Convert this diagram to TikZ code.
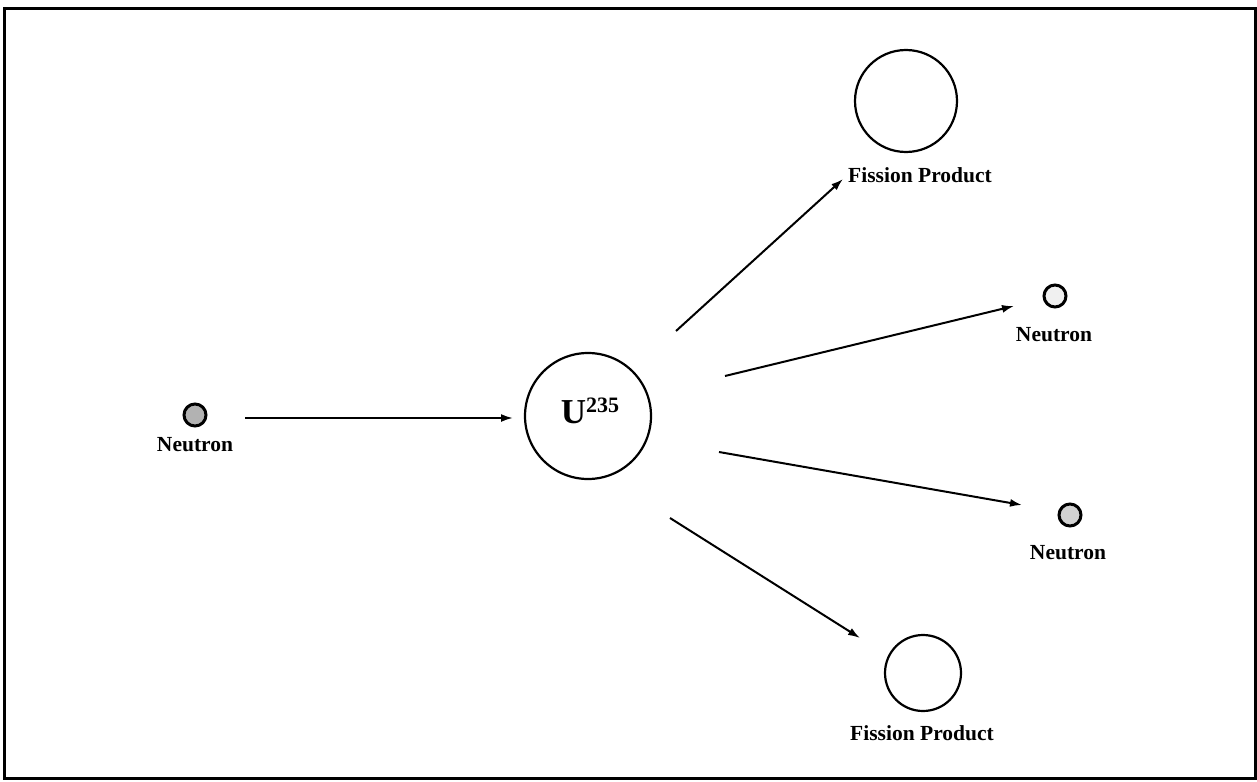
\documentclass[tikz,border=0pt]{standalone}
\usepackage{fontspec}
\setmainfont{Liberation Serif}
\usetikzlibrary{arrows.meta}
\begin{document}
\begin{tikzpicture}[x=1pt,y=-1pt,
  lbl/.style={font=\fontsize{21.5}{24}\selectfont\bfseries, inner sep=0pt},
  nucleus/.style={circle, draw, line width=2.2pt, inner sep=0pt, minimum size=#1},
  neutronball/.style={circle, draw, line width=3pt, inner sep=0pt, minimum size=22pt, fill=#1},
  arr/.style={line width=2pt, -{Latex[length=12pt,width=8pt]}}]
\useasboundingbox (0,0) rectangle (1257,781);
\node[draw, line width=3pt, minimum width=1251pt, minimum height=769pt, inner sep=0pt] (frame) at (629.5,393.5) {};
% nuclei
\node[nucleus=126pt] (u) at (588,416) {};
\node at (590,411) {\bfseries{\fontsize{35}{37}\selectfont U}\raisebox{11pt}{\fontsize{22}{23}\selectfont 235}};
\node[nucleus=102pt] (fp1) at (906,101) {};
\node[nucleus=76pt] (fp2) at (923,673) {};
% neutrons
\node[neutronball=gray!60] (n0) at (195,415) {};
\node[neutronball=gray!12] (n1) at (1055,296) {};
\node[neutronball=gray!35] (n2) at (1070,515) {};
% labels
\node[lbl] (l0) at (195,445) {Neutron};
\node[lbl] (l1) at (1054,335) {Neutron};
\node[lbl] (l2) at (1068,553) {Neutron};
\node[lbl] (lf1) at (920,175) {Fission Product};
\node[lbl] (lf2) at (922,733) {Fission Product};
% arrow end points
\coordinate (a0s) at (245,418);
\coordinate (a0e) at (513,418);
\coordinate (a1s) at (676,331);
\coordinate (a1e) at (843,179);
\coordinate (a2s) at (725,376);
\coordinate (a2e) at (1014,306);
\coordinate (a3s) at (719,452);
\coordinate (a3e) at (1022,505);
\coordinate (a4s) at (670,518);
\coordinate (a4e) at (860,638);
\draw[arr] (a0s) -- (a0e);
\draw[arr] (a1s) -- (a1e);
\draw[arr] (a2s) -- (a2e);
\draw[arr] (a3s) -- (a3e);
\draw[arr] (a4s) -- (a4e);
\end{tikzpicture}
\end{document}
